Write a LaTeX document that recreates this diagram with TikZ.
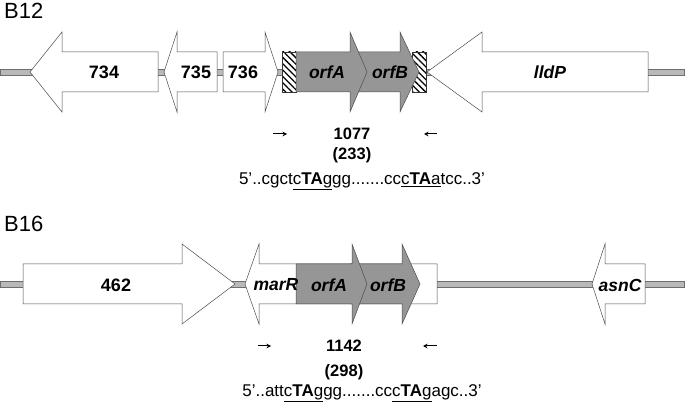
\documentclass[tikz,border=0pt]{standalone}
\usepackage{fontspec}
\setmainfont{Liberation Sans}
\usetikzlibrary{patterns.meta,arrows.meta}

\definecolor{orfgray}{RGB}{150,150,150}
\definecolor{barfill}{RGB}{185,185,185}
\definecolor{barline}{RGB}{110,110,110}

% right pointing gene: body left, head base, tip, row y
\newcommand{\generight}[5][]{%
  \draw[gene,#1] (#2,#5-20) -- (#3,#5-20) -- (#3,#5-40) -- (#4,#5)
    -- (#3,#5+40) -- (#3,#5+20) -- (#2,#5+20) -- cycle;}
% left pointing gene: tip, head base, body right, row y
\newcommand{\geneleft}[5][]{%
  \draw[gene,#1] (#4,#5-20) -- (#3,#5-20) -- (#3,#5-40) -- (#2,#5)
    -- (#3,#5+40) -- (#3,#5+20) -- (#4,#5+20) -- cycle;}

\tikzset{
  gene/.style={draw=black!70, line width=0.5pt, fill=white},
  orf/.style={fill=orfgray},
  hatchbox/.style={draw=black!80, line width=0.5pt,
    pattern={Lines[angle=-45,distance=4.5pt,line width=1.3pt]},
    preaction={fill=white}},
  backbone/.style={draw=barline, fill=barfill, line width=0.5pt},
  primer/.style={-{Stealth[length=4.5pt,width=4.5pt]}, line width=1pt},
  rowlbl/.style={font=\fontsize{22}{26}\selectfont, inner sep=0pt, anchor=west},
  genelbl/.style={font=\bfseries\fontsize{18}{21}\selectfont, inner sep=0pt},
  orflbl/.style={font=\bfseries\itshape\fontsize{17.5}{21}\selectfont, inner sep=0pt},
  sizelbl/.style={font=\bfseries\fontsize{16.5}{19}\selectfont, inner sep=0pt},
  seqlbl/.style={font=\fontsize{17}{20}\selectfont, inner sep=0pt}
}

\begin{document}
\begin{tikzpicture}[x=1pt,y=-1pt]
  \useasboundingbox (0,0) rectangle (685,411);

  % ---- B12 ----
  \node[rowlbl] (b12) at (4,11) {B12};
  % Backbone
  \draw[backbone] (0,69) rectangle (684,75);
  % Flanking hatched boxes
  \draw[hatchbox] (282,52) rectangle (296,92);
  \draw[hatchbox] (412,52) rectangle (426,92);
  % Genes
  \geneleft{30}{62}{158}{72}
  \geneleft{164}{177}{217}{72}
  \generight{223}{265}{278}{72}
  \generight[orf]{350}{400}{419}{72}
  \generight[orf]{296}{350}{367}{72}
  \geneleft{427}{482}{648}{72}
  \node[genelbl] (g734) at (104,72) {734};
  \node[genelbl] (g735) at (196,72) {735};
  \node[genelbl] (g736) at (243,72) {736};
  \node[orflbl] (orfA12) at (327,72) {orfA};
  \node[orflbl] (orfB12) at (390,72) {orfB};
  \node[orflbl] (lldP) at (550,72) {lldP};
  % Primers
  \coordinate (p12a) at (273,134);
  \coordinate (p12b) at (287,134);
  \coordinate (p12c) at (437,134);
  \coordinate (p12d) at (424,134);
  \draw[primer] (p12a) -- (p12b);
  \draw[primer] (p12c) -- (p12d);
  \node[sizelbl] (s12) at (352,134) {1077};
  \node[sizelbl] (n12) at (352,155) {(233)};
  \node[seqlbl] (seq12) at (362,181)
    {5’..cgct\underline{c\textbf{TA}g}gg.......cc\underline{c\textbf{TA}a}tcc..3’};

  % ---- B16 ----
  \node[rowlbl] (b16) at (4,224) {B16};
  % Backbone
  \draw[backbone] (0,281) rectangle (684,287);
  % Genes
  \generight{23}{182}{235}{284}
  \geneleft{245}{259}{437}{284}
  \generight[orf]{350}{402}{420}{284}
  \generight[orf]{296}{352}{367}{284}
  \geneleft{592}{605}{645}{284}
  \node[genelbl] (g462) at (116,285) {462};
  \node[orflbl] (marR) at (276,285) {marR};
  \node[orflbl] (orfA16) at (329,285) {orfA};
  \node[orflbl] (orfB16) at (388,285) {orfB};
  \node[orflbl] (asnC) at (620,285) {asnC};
  % Primers
  \coordinate (p16a) at (258,346);
  \coordinate (p16b) at (271,346);
  \coordinate (p16c) at (437,346);
  \coordinate (p16d) at (423,346);
  \draw[primer] (p16a) -- (p16b);
  \draw[primer] (p16c) -- (p16d);
  \node[sizelbl] (s16) at (344,346) {1142};
  \node[sizelbl] (n16) at (344,372) {(298)};
  \node[seqlbl] (seq16) at (362,393)
    {5’..att\underline{c\textbf{TA}g}gg.......cc\underline{c\textbf{TA}g}agc..3’};
\end{tikzpicture}
\end{document}
